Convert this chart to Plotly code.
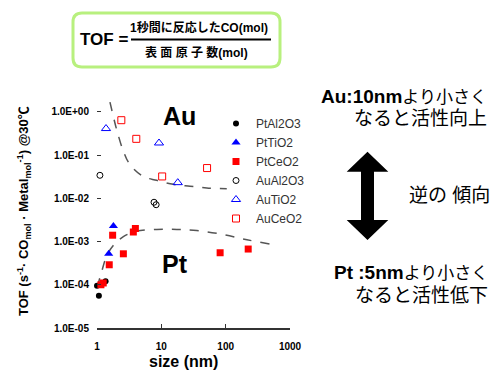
import plotly.graph_objects as go

# ---------------- data ----------------
series_names = ["PtAl2O3", "PtTiO2", "PtCeO2", "AuAl2O3", "AuTiO2", "AuCeO2"]

pt_al2o3_x = [1.07, 1.36, 1.0]
pt_al2o3_y = [5.6e-5, 1.2e-4, 9.5e-5]

pt_tio2_x = [0.97, 1.52, 1.8]
pt_tio2_y = [5.8e-4, 5.2e-4, 2.3e-3]

pt_ceo2_x = [1.15, 1.25, 1.55, 1.75, 2.57, 3.67, 3.95, 82.0, 224.0]
pt_ceo2_y = [1.0e-4, 1.1e-4, 2.9e-4, 1.4e-3, 5.2e-4, 1.66e-3, 2.0e-3, 5.5e-4, 6.7e-4]

au_al2o3_x = [1.11, 7.7, 8.3]
au_al2o3_y = [0.034, 8.1e-3, 7.1e-3]

au_tio2_x = [1.38, 9.2, 18.0]
au_tio2_y = [0.41, 0.19, 0.023]

au_ceo2_x = [2.39, 4.08, 10.3, 51.4]
au_ceo2_y = [0.64, 0.237, 0.032, 0.05]

au_curve_x = [1.59, 1.79, 2.02, 2.57, 3.26, 5.25, 8.47, 15.4, 27.9, 50.8, 104.0]
au_curve_y = [1.67, 0.79, 0.39, 0.123, 0.060, 0.032, 0.026, 0.021, 0.019, 0.0174, 0.0166]

pt_curve_x = [1.01, 1.18, 1.41, 1.79, 2.57, 4.14, 8.47, 17.4, 35.5, 92.0, 214.0, 490.0]
pt_curve_y = [8.9e-5, 2.0e-4, 4.6e-4, 8.1e-4, 1.3e-3, 1.74e-3, 1.9e-3, 1.9e-3, 1.8e-3, 1.45e-3, 1.1e-3, 8.7e-4]

x_tickvals = [1, 10, 100, 1000]
x_ticktext = ["1", "10", "100", "1000"]
y_tickvals = [1e-5, 1e-4, 1e-3, 1e-2, 1e-1, 1e0]
y_ticktext = ["1.0E-05", "1.0E-04", "1.0E-03", "1.0E-02", "1.0E-01", "1.0E+00"]

# ---------------- layout geometry ----------------
W, H = 496, 370
ML, MR, MT, MB = 97, 206, 101, 42
PW, PH = W - ML - MR, H - MT - MB


def px(x):
    return (x - ML) / PW


def py(y):
    return (H - MB - y) / PH


LAT = "Liberation Sans, Arial, Noto Sans CJK JP"
JP = "Liberation Sans, Noto Sans CJK JP"

fig = go.Figure()

# dashed guide curves
for cx, cy in [(au_curve_x, au_curve_y), (pt_curve_x, pt_curve_y)]:
    fig.add_trace(go.Scatter(x=cx, y=cy, mode="lines", showlegend=False,
                             line=dict(color="#555555", width=1.5, dash="dash", shape="spline"),
                             hoverinfo="skip"))

styles = [
    (pt_al2o3_x, pt_al2o3_y, dict(symbol="circle", size=6, color="black")),
    (pt_tio2_x, pt_tio2_y, dict(symbol="triangle-up", size=8, color="#0000ff")),
    (pt_ceo2_x, pt_ceo2_y, dict(symbol="square", size=7, color="#ff0000")),
    (au_al2o3_x, au_al2o3_y, dict(symbol="circle-open", size=6, color="black", line=dict(width=1))),
    (au_tio2_x, au_tio2_y, dict(symbol="triangle-up-open", size=8, color="#0000ff", line=dict(width=1))),
    (au_ceo2_x, au_ceo2_y, dict(symbol="square-open", size=7, color="#ff0000", line=dict(width=1))),
]
for name, (sx, sy, mk) in zip(series_names, styles):
    fig.add_trace(go.Scatter(x=sx, y=sy, mode="markers", name=name, marker=mk, cliponaxis=False))

fig.update_xaxes(type="log", range=[0, 3], tickvals=x_tickvals, ticktext=x_ticktext,
                 showgrid=False, zeroline=False, showline=True, linecolor="#333333", linewidth=1.5,
                 ticks="inside", ticklen=4, tickcolor="#333333", tickwidth=1.2,
                 tickfont=dict(family=LAT, size=10, color="black", weight="bold"),
                 ticklabelstandoff=8)
fig.update_yaxes(type="log", range=[-5, 0.25], tickvals=y_tickvals, ticktext=y_ticktext,
                 showgrid=False, zeroline=False, showline=False,
                 ticks="inside", ticklen=4, tickcolor="#333333", tickwidth=1.2,
                 tickfont=dict(family=LAT, size=10, color="black", weight="bold"),
                 ticklabelstandoff=7)

shapes = []
# y axis line (only up to 1.0E+00)
shapes.append(dict(type="line", xref="paper", yref="y", x0=0, x1=0, y0=-5, y1=0,
                   line=dict(color="#333333", width=1.5)))

# rounded formula box
x0, x1, y0, y1, r = 73, 280, 13, 67, 9
path = (f"M {px(x0+r)},{py(y0)} L {px(x1-r)},{py(y0)} Q {px(x1)},{py(y0)} {px(x1)},{py(y0+r)} "
        f"L {px(x1)},{py(y1-r)} Q {px(x1)},{py(y1)} {px(x1-r)},{py(y1)} "
        f"L {px(x0+r)},{py(y1)} Q {px(x0)},{py(y1)} {px(x0)},{py(y1-r)} "
        f"L {px(x0)},{py(y0+r)} Q {px(x0)},{py(y0)} {px(x0+r)},{py(y0)} Z")
shapes.append(dict(type="path", xref="paper", yref="paper", path=path,
                   line=dict(color="#b8f07e", width=3), fillcolor="white"))
# fraction bar
shapes.append(dict(type="line", xref="paper", yref="paper", x0=px(131), x1=px(271), y0=py(39.5), y1=py(39.5),
                   line=dict(color="black", width=2)))

# double arrow
pts = [(367.5, 151.7), (346.7, 171.7), (361, 171.7), (361, 220), (346.7, 220), (367.5, 240),
       (388.3, 220), (374, 220), (374, 171.7), (388.3, 171.7)]
apath = "M " + " L ".join(f"{px(a)},{py(b)}" for a, b in pts) + " Z"
shapes.append(dict(type="path", xref="paper", yref="paper", path=apath,
                   line=dict(color="black", width=0), fillcolor="black"))

ann = []


def text(t, x, y, size, xanchor="center", bold=False, family=JP, color="black", angle=0):
    ann.append(dict(text=t, x=px(x), y=py(y), xref="paper", yref="paper", showarrow=False,
                    xanchor=xanchor, yanchor="middle", textangle=angle,
                    font=dict(family=family, size=size, color=color,
                              weight="bold" if bold else "normal")))


text("<b>TOF =</b>", 104, 40, 17, bold=True, family=LAT)
text("<b>1秒間に反応したCO(mol)</b>", 199, 28, 12, bold=True)
text("<b>表 面 原 子 数(mol)</b>", 196, 52, 12, bold=True)

text("<b>Au</b>", 179, 116, 25, bold=True, family=LAT)
text("<b>Pt</b>", 175, 264, 25, bold=True, family=LAT)

text("<b>size (nm)</b>", 183, 361, 16, bold=True, family=LAT)
text("<b>TOF (s<sup>-1</sup>· CO<sub>mol</sub> · Metal<sub>mol</sub><sup>-1</sup>) @30℃</b>",
     24, 211, 13, bold=True, family=LAT, angle=-90)

text("<b>Au:10nm</b><span style=\"font-size:17px\">より小さく</span>", 489, 96, 19, xanchor="right")
text("なると活性向上", 489, 119, 19, xanchor="right")
text("逆の 傾向", 492, 195, 19, xanchor="right")
text("<b>Pt :5nm</b><span style=\"font-size:17px\">より小さく</span>", 490, 272, 19, xanchor="right")
text("なると活性低下", 490, 295, 19, xanchor="right")

fig.update_layout(
    width=W, height=H, margin=dict(l=ML, r=MR, t=MT, b=MB),
    paper_bgcolor="white", plot_bgcolor="white",
    shapes=shapes, annotations=ann,
    legend=dict(x=px(216), y=py(109), xanchor="left", yanchor="top",
                font=dict(family=LAT, size=12, color="#333333"),
                bgcolor="rgba(0,0,0,0)", tracegroupgap=0),
)

fig.write_html("out.html")
